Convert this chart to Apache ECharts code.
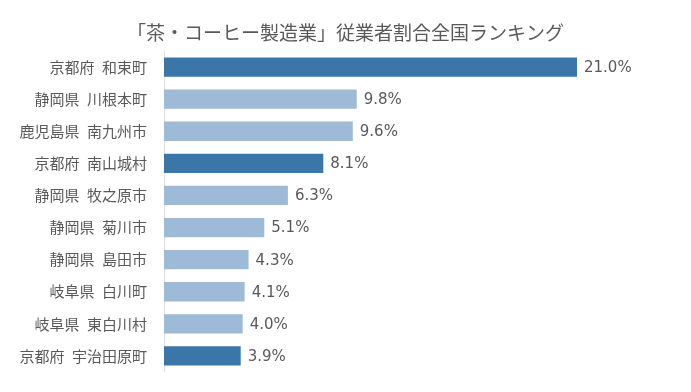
<!DOCTYPE html>
<html><head><meta charset="utf-8">
<script src="https://cdn.jsdelivr.net/npm/echarts@6/dist/echarts.min.js"></script>
<style>html,body{margin:0;padding:0;background:#fff}#c{width:691px;height:392px}</style>
</head><body><div id="c"></div>
<script>
const categories = ["京都府 和束町","静岡県 川根本町","鹿児島県 南九州市","京都府 南山城村","静岡県 牧之原市","静岡県 菊川市","静岡県 島田市","岐阜県 白川町","岐阜県 東白川村","京都府 宇治田原町"];
const values = [21.0, 9.8, 9.6, 8.1, 6.3, 5.1, 4.3, 4.1, 4.0, 3.9];
const highlight = [true,false,false,true,false,false,false,false,false,true];
const font = "'Noto Sans CJK JP', sans-serif";
const chart = echarts.init(document.getElementById('c'));
chart.setOption({
  animation:false,
  title:{text:"「茶・コーヒー製造業」従業者割合全国ランキング",left:'center',top:18,
    textStyle:{fontFamily:font,fontSize:19,fontWeight:'normal',color:'#595959'}},
  grid:{left:164,right:114,top:51,bottom:20,containLabel:false},
  xAxis:{type:'value',min:0,max:21,show:false},
  yAxis:{type:'category',inverse:true,data:categories,
    axisLine:{show:true,lineStyle:{color:'#e0e0e0',width:1}},
    axisTick:{show:false},
    axisLabel:{fontFamily:font,fontSize:15,color:'#595959',margin:17,
      formatter:v=>v.replace(' ','\u2002')}},
  series:[{type:'bar',barCategoryGap:'40%',
    data:values.map((v,i)=>({value:v,itemStyle:{color:highlight[i]?'#3b76a9':'#9dbad6'}})),
    label:{show:true,position:'right',distance:7,offset:[0,1],formatter:p=>p.value.toFixed(1)+'%',
      fontFamily:"'DejaVu Sans', sans-serif",fontSize:15,color:'#595959'}}]
});
</script></body></html>
